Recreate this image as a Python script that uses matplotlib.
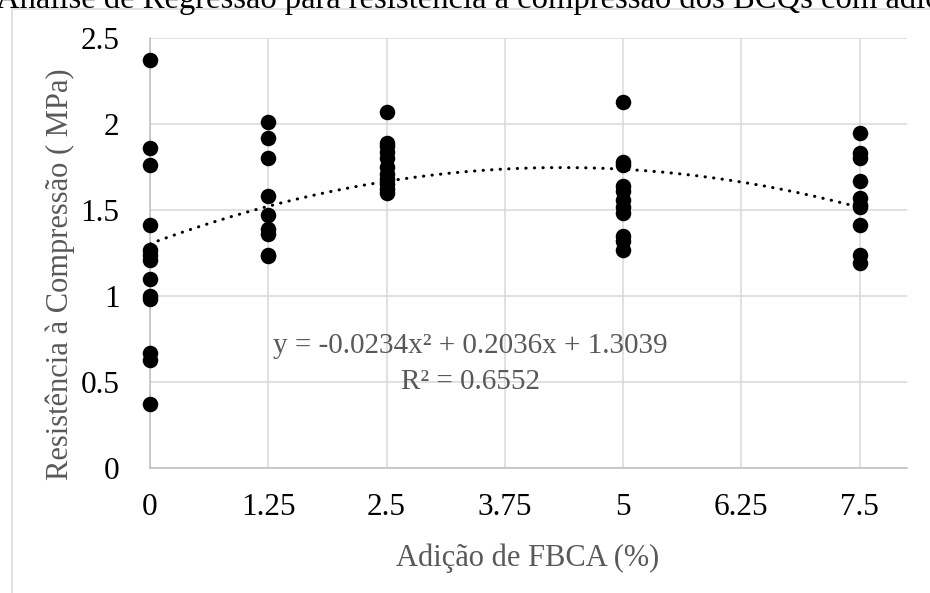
import matplotlib
matplotlib.use("Agg")
import matplotlib.pyplot as plt
from matplotlib.patches import Rectangle
import numpy as np

plt.rcParams["font.family"] = ["Liberation Serif", "DejaVu Serif"]

# FBCA addition levels (%) and measured compressive strengths (MPa)
levels = [0, 1.25, 2.5, 5, 7.5]
strength_0 = [2.37, 1.86, 1.76, 1.41, 1.27, 1.24, 1.21, 1.10, 1.00, 0.98, 0.67, 0.63, 0.37]
strength_125 = [2.01, 1.92, 1.80, 1.58, 1.47, 1.39, 1.36, 1.24, 1.23]
strength_25 = [2.07, 1.89, 1.87, 1.84, 1.80, 1.75, 1.71, 1.68, 1.65, 1.62, 1.60]
strength_5 = [2.13, 1.78, 1.76, 1.64, 1.61, 1.56, 1.52, 1.48, 1.35, 1.32, 1.27]
strength_75 = [1.95, 1.83, 1.80, 1.67, 1.57, 1.53, 1.52, 1.41, 1.24, 1.19]
groups = [strength_0, strength_125, strength_25, strength_5, strength_75]

# Polynomial trend (order 2)
coef_a, coef_b, coef_c = -0.0234, 0.2036, 1.3039
r_squared = 0.6552

x_ticks = [0, 1.25, 2.5, 3.75, 5, 6.25, 7.5]
x_tick_labels = ["0", "1.25", "2.5", "3.75", "5", "6.25", "7.5"]
y_ticks = [0, 0.5, 1, 1.5, 2, 2.5]
y_tick_labels = ["0", "0.5", "1", "1.5", "2", "2.5"]

title = "Análise de Regressão para resistência à compressão dos BCQs com adição de FBCA"
x_label = "Adição de FBCA (%)"
y_label = "Resistência à Compressão ( MPa)"

W, H = 930, 593
fig = plt.figure(figsize=(W / 100, H / 100), dpi=100)

# chart area border
fig.patches.append(Rectangle((12 / W, -0.1), 1.2, 1 - 9 / H + 0.1,
                             transform=fig.transFigure, fill=False,
                             edgecolor="#d9d9d9", linewidth=1.1))

fig.text(-4 / W, 1 - 8 / H, title, fontsize=23.5, ha="left", va="baseline", color="black")

ax = fig.add_axes([150 / W, 1 - 468 / H, 757 / W, 430 / H])
ax.set_xlim(0, 8)
ax.set_ylim(0, 2.5)
ax.set_xticks(x_ticks)
ax.set_xticklabels(x_tick_labels)
ax.set_yticks(y_ticks)
ax.set_yticklabels(y_tick_labels)
ax.tick_params(length=0, labelsize=22.5, colors="black")
ax.tick_params(axis="x", pad=18)
ax.tick_params(axis="y", pad=22)
ax.grid(True, color="#d9d9d9", linewidth=1.1)
ax.set_axisbelow(True)
for side in ("top", "right"):
    ax.spines[side].set_visible(False)
for side in ("left", "bottom"):
    ax.spines[side].set_color("#bfbfbf")
    ax.spines[side].set_linewidth(1.1)

for lvl, vals in zip(levels, groups):
    ax.scatter([lvl] * len(vals), vals, s=125, color="black", zorder=3,
               clip_on=False, linewidths=0)

xs = np.linspace(0, 7.5, 300)
ys = coef_a * xs ** 2 + coef_b * xs + coef_c
ax.plot(xs, ys, color="black", linewidth=2.2, linestyle=(0, (0.1, 2.7)),
        dash_capstyle="round", zorder=4)

eq = f"y = {coef_a:.4f}x² + {coef_b:.4f}x + {coef_c:.4f}\nR² = {r_squared:.4f}"
ax.text(3.39, 0.605, eq, fontsize=21, color="#595959", ha="center", va="center",
        multialignment="center", linespacing=1.5, zorder=5)

# axis titles
fig.text(528 / W, 1 - 558 / H, x_label, fontsize=22, color="#595959",
         ha="center", va="center")
fig.text(60 / W, 1 - 274 / H, y_label, fontsize=22, color="#595959",
         ha="center", va="center", rotation=90)

fig.savefig("out.png", dpi=100)
